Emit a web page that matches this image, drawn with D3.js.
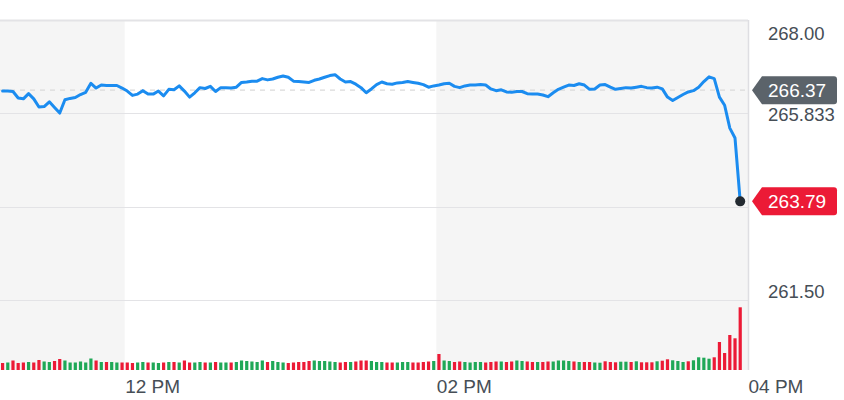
<!DOCTYPE html>
<html>
<head>
<meta charset="utf-8">
<script src="https://cdn.jsdelivr.net/npm/d3@7"></script>
<style>
  html, body { margin: 0; padding: 0; background: #fff; }
  svg { display: block; }
  text { font-family: "Liberation Sans", Arial, Helvetica, sans-serif; }
</style>
</head>
<body>
<svg id="chart" width="844" height="400"></svg>
<script>
// ---- data ----
const startTime = "2018-03-22T11:13:00";
const stepMinutes = 2;
const prices = [
  266.35, 266.35, 266.34, 266.19, 266.17, 266.29, 266.17, 265.98, 265.99, 266.10,
  265.97, 265.84, 266.15, 266.18, 266.20, 266.27, 266.32, 266.53, 266.42, 266.49,
  266.48, 266.48, 266.48, 266.42, 266.35, 266.25, 266.28, 266.36, 266.28, 266.28,
  266.35, 266.24, 266.39, 266.38, 266.47, 266.35, 266.21, 266.31, 266.43, 266.41,
  266.46, 266.34, 266.43, 266.43, 266.42, 266.44, 266.55, 266.56, 266.58, 266.58,
  266.64, 266.61, 266.63, 266.67, 266.70, 266.67, 266.58, 266.57, 266.56, 266.55,
  266.60, 266.63, 266.67, 266.71, 266.73, 266.63, 266.56, 266.57, 266.51, 266.43,
  266.31, 266.40, 266.50, 266.56, 266.52, 266.51, 266.54, 266.55, 266.57, 266.55,
  266.53, 266.50, 266.44, 266.47, 266.49, 266.52, 266.53, 266.46, 266.43, 266.47,
  266.49, 266.49, 266.50, 266.49, 266.40, 266.36, 266.38, 266.33, 266.32, 266.34,
  266.34, 266.29, 266.28, 266.28, 266.26, 266.22, 266.31, 266.39, 266.44, 266.49,
  266.48, 266.52, 266.49, 266.39, 266.40, 266.49, 266.50, 266.44, 266.39, 266.41,
  266.43, 266.42, 266.44, 266.46, 266.43, 266.42, 266.44, 266.40, 266.21, 266.13,
  266.20, 266.27, 266.33, 266.36, 266.44, 266.57, 266.68, 266.64, 266.21, 266.02,
  265.49, 265.26, 263.79
];
const volumes = [
  70, 75, 95, 70, 75, 80, 75, 100, 85, 80, 90, 110, 95, 75, 75, 85, 75, 115, 95, 80, 80,
  80, 75, 75, 75, 70, 75, 80, 75, 75, 70, 75, 80, 80, 75, 95, 75, 75, 80, 75, 75, 80,
  75, 75, 75, 80, 95, 90, 85, 80, 95, 80, 90, 80, 75, 70, 75, 80, 80, 90, 95, 90, 90,
  85, 80, 75, 80, 80, 85, 95, 95, 90, 80, 80, 75, 75, 75, 80, 80, 75, 75, 80, 85, 90,
  160,
  95, 90, 80, 85, 80, 75, 80, 80, 75, 80, 85, 85, 80, 85, 95, 90, 85, 80, 80, 80, 85, 85, 95, 95, 90, 85, 80, 80, 80, 75,
  73, 87, 80, 77, 83, 83, 80, 87, 77, 77, 77, 87, 93, 107, 97, 90, 80, 87, 97, 127, 123, 113, 127, 280, 170, 350, 317, 627
];
// colours of the volume bars: spike bar and the last bars; "u" green, "d" red
const spikeBarIndex = 84;
const spikeBarColour = "d";
const lastBarColours = ["u","d","d","d","u","u","d","u","d","d","d","u","d","d","u","u","u","d","u","u","u","u","d","d","d","d","d","d"];
const previousClose = 266.37;
const yTickValues = [268.00, 265.833, 263.667, 261.50];
const yTickLabels = ["268.00", "265.833", "", "261.50"];
const xTickTimes = ["2018-03-22T12:00:00", "2018-03-22T14:00:00", "2018-03-22T16:00:00"];
const xTickLabels = ["12 PM", "02 PM", "04 PM"];
const bandTimes = [["2018-03-22T10:00:00", "2018-03-22T12:00:00"], ["2018-03-22T14:00:00", "2018-03-22T16:00:00"]];
const viewStart = "2018-03-22T11:12:00";
const viewEnd = "2018-03-22T16:00:00";

// ---- layout ----
const svg = d3.select("#chart");
const plotLeft = 0, plotRight = 748, plotTop = 20, priceBottom = 300, volBottom = 370, volTop = 300;
const parse = d3.isoParse;
const t0 = parse(startTime);
const times = prices.map((_, i) => d3.timeMinute.offset(t0, i * stepMinutes));

const x = d3.scaleTime().domain([parse(viewStart), parse(viewEnd)]).range([plotLeft, plotRight]);
const y = d3.scaleLinear().domain([261.5, 268]).range([priceBottom, plotTop]);
const yv = d3.scaleLinear().domain([0, 700]).range([volBottom, volTop]);

const firstRead = prices.length - lastBarColours.length;
const barUp = prices.map((p, i) => {
  if (i >= firstRead) return lastBarColours[i - firstRead] === "u";
  if (i === spikeBarIndex) return spikeBarColour === "u";
  return i === 0 ? false : p >= prices[i - 1];
});

const defs = svg.append("defs");
defs.append("clipPath").attr("id", "plotclip").append("rect")
  .attr("x", plotLeft).attr("y", 0).attr("width", plotRight - plotLeft).attr("height", volBottom);

// shaded bands
svg.append("g").attr("clip-path", "url(#plotclip)")
  .selectAll("rect").data(bandTimes).join("rect")
  .attr("x", d => x(parse(d[0])))
  .attr("width", d => x(parse(d[1])) - x(parse(d[0])))
  .attr("y", plotTop).attr("height", volBottom - plotTop)
  .attr("fill", "#f5f5f5");

// horizontal grid
svg.append("g").selectAll("line").data(yTickValues).join("line")
  .attr("x1", plotLeft).attr("x2", plotRight)
  .attr("y1", d => Math.round(y(d)) + 0.5).attr("y2", d => Math.round(y(d)) + 0.5)
  .attr("stroke", "#e3e3e6").attr("stroke-width", d => d === 268 ? 2 : 1);

// right border
svg.append("line").attr("x1", plotRight + 0.5).attr("x2", plotRight + 0.5)
  .attr("y1", plotTop).attr("y2", volBottom).attr("stroke", "#dedee2").attr("stroke-width", 1.5);

// previous close dashed
svg.append("line").attr("x1", plotLeft).attr("x2", plotRight)
  .attr("y1", y(previousClose)).attr("y2", y(previousClose))
  .attr("stroke", "#dadada").attr("stroke-width", 1.2).attr("stroke-dasharray", "5,5");

// volume bars
svg.append("g").attr("clip-path", "url(#plotclip)")
  .selectAll("rect").data(volumes).join("rect")
  .attr("x", (d, i) => x(times[i]) - 1.6)
  .attr("width", 3.2)
  .attr("y", d => yv(d))
  .attr("height", d => volBottom - yv(d))
  .attr("fill", (d, i) => barUp[i] ? "#1fa857" : "#ec1a36");

// price line
const line = d3.line().x((d, i) => x(times[i])).y(d => y(d));
svg.append("path").datum(prices)
  .attr("d", line).attr("fill", "none")
  .attr("stroke", "#1b8cf0").attr("stroke-width", 3)
  .attr("stroke-linejoin", "round").attr("stroke-linecap", "round");

// right axis
const yAxis = d3.axisRight(y).tickValues(yTickValues)
  .tickFormat((d, i) => yTickLabels[i]).tickSize(0).tickPadding(20);
const ya = svg.append("g").attr("transform", `translate(${plotRight},0)`).call(yAxis);
ya.select(".domain").remove();
ya.selectAll(".tick").filter((d, i) => yTickLabels[i] === "").remove();
ya.selectAll("text").attr("font-size", 18.5).attr("fill", "#464e56")
  .attr("font-family", "Liberation Sans, Arial, sans-serif")
  .attr("dy", d => d === yTickValues[0] ? "1.05em" : (d === yTickValues[yTickValues.length - 1] ? "-0.15em" : "0.38em"));

// bottom axis
const xAxis = d3.axisBottom(x).tickValues(xTickTimes.map(parse))
  .tickFormat((d, i) => xTickLabels[i]).tickSize(0).tickPadding(6);
const xa = svg.append("g").attr("transform", `translate(0,${volBottom})`).call(xAxis);
xa.select(".domain").remove();
xa.selectAll("text").attr("font-size", 19).attr("fill", "#464e56")
  .attr("text-anchor", "start").attr("font-family", "Liberation Sans, Arial, sans-serif")
  .attr("dy", "0.9em");

// price tags
function tag(value, color) {
  const cy = y(value);
  const h = 28, tip = plotRight + 4, bodyL = tip + 10, bodyR = 837, r = 3;
  const p = `M${tip},${cy} L${bodyL},${cy - h / 2} L${bodyR - r},${cy - h / 2} Q${bodyR},${cy - h / 2} ${bodyR},${cy - h / 2 + r} L${bodyR},${cy + h / 2 - r} Q${bodyR},${cy + h / 2} ${bodyR - r},${cy + h / 2} L${bodyL},${cy + h / 2} Z`;
  svg.append("path").attr("d", p).attr("fill", color);
  svg.append("text").attr("x", bodyL + 6).attr("y", cy).attr("dy", "0.36em")
    .attr("fill", "#fff").attr("font-size", 19).text(value.toFixed(2));
}
tag(previousClose, "#5b636a");
tag(prices[prices.length - 1], "#ec1a36");

// last point dot
svg.append("circle").attr("cx", x(times[times.length - 1])).attr("cy", y(prices[prices.length - 1]))
  .attr("r", 5).attr("fill", "#232a31");
</script>
</body>
</html>
